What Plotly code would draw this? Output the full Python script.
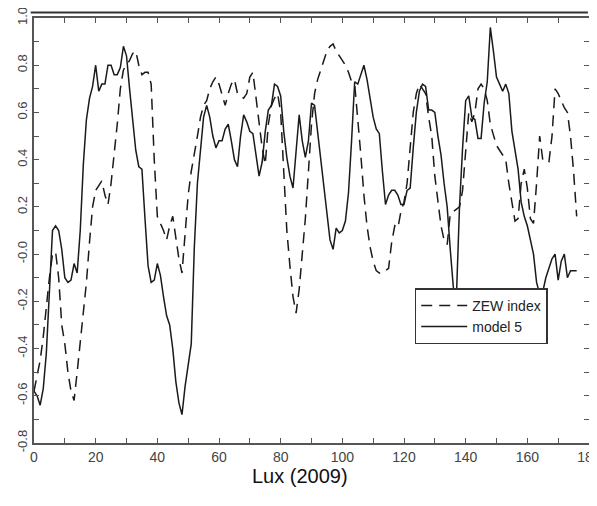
import plotly.graph_objects as go

# month index
months = list(range(177))

zew_index = [
    -0.58, -0.52, -0.45, -0.35, -0.22, -0.10, 0.00, 0.01, -0.10, -0.30,
    -0.38, -0.50, -0.58, -0.62, -0.50, -0.38, -0.25, -0.12, 0.05, 0.20,
    0.27, 0.29, 0.31, 0.25, 0.21, 0.30, 0.42, 0.55, 0.70, 0.78,
    0.80, 0.82, 0.85, 0.86, 0.80, 0.76, 0.77, 0.77, 0.72, 0.40,
    0.16, 0.13, 0.10, 0.06, 0.12, 0.16, 0.08, -0.02, -0.08, 0.08,
    0.25, 0.35, 0.42, 0.50, 0.58, 0.63, 0.65, 0.70, 0.73, 0.75,
    0.72, 0.68, 0.63, 0.68, 0.72, 0.74, 0.68, 0.67, 0.66, 0.68,
    0.75, 0.77, 0.66, 0.55, 0.45, 0.38, 0.55, 0.63, 0.66, 0.68,
    0.60, 0.35, 0.10, -0.05, -0.18, -0.25, -0.15, 0.00, 0.15, 0.35,
    0.55, 0.68, 0.74, 0.78, 0.82, 0.86, 0.88, 0.89, 0.86, 0.84,
    0.82, 0.80, 0.77, 0.73, 0.72, 0.58, 0.42, 0.25, 0.12, 0.03,
    -0.03, -0.07, -0.08, -0.07, -0.07, -0.06, 0.05, 0.12, 0.11, 0.18,
    0.22, 0.30, 0.45, 0.60, 0.68, 0.72, 0.70, 0.68, 0.58, 0.50,
    0.33, 0.22, 0.12, 0.06, 0.04, 0.17, 0.18, 0.19, 0.20, 0.27,
    0.45, 0.60, 0.56, 0.60, 0.70, 0.72, 0.70, 0.65, 0.55, 0.50,
    0.46, 0.44, 0.42, 0.40, 0.30, 0.22, 0.14, 0.15, 0.30, 0.36,
    0.28, 0.15, 0.13, 0.30, 0.50, 0.40, 0.39, 0.39, 0.50, 0.70,
    0.68, 0.65, 0.62, 0.60, 0.50, 0.35, 0.16,
]

model_5 = [
    -0.58, -0.60, -0.64, -0.57, -0.42, -0.18, 0.10, 0.12, 0.10, 0.02,
    -0.10, -0.12, -0.11, -0.04, -0.08, 0.10, 0.38, 0.57, 0.66, 0.71,
    0.80, 0.69, 0.72, 0.72, 0.80, 0.80, 0.76, 0.76, 0.79, 0.88,
    0.84, 0.70, 0.56, 0.44, 0.37, 0.36, 0.15, -0.05, -0.12, -0.11,
    -0.04, -0.09, -0.18, -0.26, -0.30, -0.40, -0.54, -0.63, -0.68, -0.56,
    -0.47, -0.38, 0.03, 0.30, 0.44, 0.58, 0.63, 0.58, 0.50, 0.45,
    0.48, 0.48, 0.53, 0.55, 0.48, 0.40, 0.37, 0.50, 0.59, 0.56,
    0.52, 0.51, 0.42, 0.33, 0.39, 0.52, 0.61, 0.63, 0.72, 0.71,
    0.67, 0.52, 0.41, 0.33, 0.28, 0.45, 0.59, 0.48, 0.41, 0.48,
    0.64, 0.63, 0.52, 0.40, 0.28, 0.17, 0.06, 0.02, 0.11, 0.09,
    0.10, 0.14, 0.26, 0.48, 0.73, 0.72, 0.76, 0.80, 0.74, 0.66,
    0.58, 0.53, 0.51, 0.35, 0.21, 0.25, 0.27, 0.27, 0.25, 0.21,
    0.21, 0.27, 0.28, 0.45, 0.60, 0.69, 0.72, 0.71, 0.61, 0.61,
    0.60, 0.50, 0.42, 0.30, 0.20, 0.02, -0.14, -0.18, 0.20, 0.45,
    0.65, 0.67, 0.58, 0.57, 0.49, 0.49, 0.64, 0.73, 0.96, 0.86,
    0.75, 0.72, 0.69, 0.72, 0.68, 0.52, 0.43, 0.36, 0.22, 0.16,
    0.12, 0.06, 0.00, -0.12, -0.17, -0.16, -0.10, -0.06, -0.02, 0.00,
    -0.11, -0.03, 0.00, -0.10, -0.07, -0.07, -0.07,
]

x_tick_vals = list(range(0, 181, 10))
x_tick_text = [str(v) if v % 20 == 0 else "" for v in x_tick_vals]
y_tick_vals = [round(-0.8 + 0.1 * i, 1) for i in range(19)]
y_labels = {1.0: "1.0", 0.8: "0.8", 0.6: "0.6", 0.4: "0.4", 0.2: "0.2",
            0.0: "-0.0", -0.2: "-0.2", -0.4: "-0.4", -0.6: "-0.6", -0.8: "-0.8"}
y_tick_text = [y_labels.get(v, "") for v in y_tick_vals]

FONT = "Liberation Sans, Arial, sans-serif"

fig = go.Figure()
fig.add_trace(go.Scatter(x=months, y=zew_index, mode="lines", name="ZEW index",
                         line=dict(color="#1a1a1a", width=1.5, dash="11px,7px")))
fig.add_trace(go.Scatter(x=months, y=model_5, mode="lines", name="model 5",
                         line=dict(color="#1a1a1a", width=1.5)))

axis_common = dict(showgrid=False, zeroline=False, showline=True, linecolor="#555555",
                   linewidth=1.5, mirror="ticks", ticks="inside", ticklen=5,
                   tickcolor="#555555", tickwidth=1.2, ticklabeloverflow="allow")

# page body has an 8px margin: the figure is sized/offset to compensate
fig.update_layout(
    width=589, height=498,
    margin=dict(l=25.5, r=7.7, t=10.4, b=63, autoexpand=False),
    paper_bgcolor="white", plot_bgcolor="white",
    xaxis=dict(range=[0, 180], tickmode="array", tickvals=x_tick_vals,
               ticktext=x_tick_text,
               tickfont=dict(family=FONT, size=14, color="#444444"), **axis_common),
    yaxis=dict(range=[-0.8, 1.0], tickmode="array", tickvals=y_tick_vals,
               ticktext=y_tick_text, tickangle=-90,
               tickfont=dict(family=FONT, size=13, color="#444444"), **axis_common),
    legend=dict(x=0.686, y=0.364, xanchor="left", yanchor="top",
                bgcolor="white", bordercolor="#333333", borderwidth=1.5,
                font=dict(family=FONT, size=14, color="#222222"),
                tracegroupgap=0, itemwidth=46),
    showlegend=True,
)

fig.add_shape(type="line", xref="paper", yref="paper", x0=-0.006, x1=0.998,
              y0=1.0127, y1=1.0127, line=dict(color="#333333", width=2))

fig.add_annotation(text="Lux (2009)", xref="paper", yref="paper", x=0.4795, y=-0.078,
                   xanchor="center", yanchor="middle", showarrow=False,
                   font=dict(family=FONT, size=20, color="#111111"))

fig.write_html("out.html")
